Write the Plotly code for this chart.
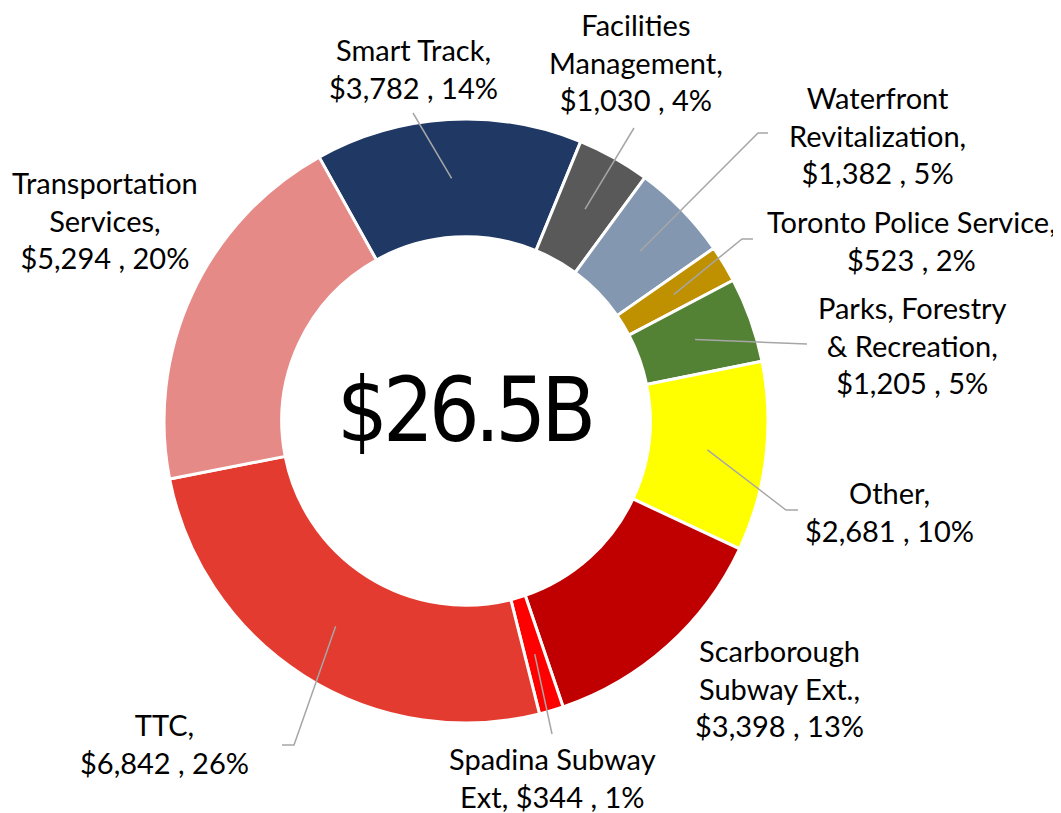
import math
import plotly.graph_objects as go

# ---- data ----
categories = ["Smart Track", "Facilities Management", "Waterfront Revitalization",
              "Toronto Police Service", "Parks, Forestry & Recreation", "Other",
              "Scarborough Subway Ext.", "Spadina Subway Ext", "TTC",
              "Transportation Services"]
values = [3782, 1030, 1382, 523, 1205, 2681, 3398, 344, 6842, 5294]
label_names = ["Smart Track", "Facilities<br>Management", "Waterfront<br>Revitalization",
               "Toronto Police Service", "Parks, Forestry<br>& Recreation", "Other",
               "Scarborough<br>Subway Ext.", "Spadina Subway<br>Ext", "TTC",
               "Transportation<br>Services"]
center_text = "$26.5B"

# ---- style / layout ----
colors = ["#1F3864", "#595959", "#8497B0", "#BF9000", "#548235", "#FFFF00",
          "#C00000", "#FF0000", "#E33B30", "#E68A88"]
label_sep = ["<br>"] * 7 + [" "] + ["<br>"] * 2
label_pos = [(413, 69), (636, 62), (877, 135), (911, 241), (912, 345), (889, 511),
             (779, 688), (552, 777), (164, 743), (105, 220)]
leader_pts = [[(413, 113)], [(634, 128)], [(758, 133), (768, 133)],
              [(742, 239), (753, 239)], [(807, 344)], [(786, 510), (798, 510)],
              None, [(552, 734)], [(294, 745), (282, 745)], None]

W, H = 1061, 813          # window size
OFF = 8                   # default page body margin
FW, FH = W - OFF, H - OFF # figure size
CX, CY, R_OUT, HOLE = 466, 421, 302, 0.61
ROTATION = -29.1
FONT = "Lato, Calibri, Carlito, sans-serif"


def px(x, y):
    """window pixel -> paper coordinates"""
    return (x - OFF) / FW, 1 - (y - OFF) / FH


total = sum(values)

x0, y1 = px(CX - R_OUT, CY - R_OUT)
x1, y0 = px(CX + R_OUT, CY + R_OUT)
fig = go.Figure(go.Pie(
    labels=categories, values=values, hole=HOLE, sort=False,
    direction="clockwise", rotation=ROTATION,
    marker=dict(colors=colors, line=dict(color="white", width=3)),
    textinfo="none", hoverinfo="label+value+percent", showlegend=False,
    domain=dict(x=[x0, x1], y=[y0, y1]),
))

annotations = []
shapes = []
r_mid = R_OUT * (1 + HOLE) / 2
cum = 0
for i, v in enumerate(values):
    mid = math.radians(ROTATION + (cum + v / 2) / total * 360)
    cum += v
    ax, ay = CX + r_mid * math.sin(mid), CY - r_mid * math.cos(mid)
    pct = round(v / total * 100)
    text = f"{label_names[i]},{label_sep[i]}${v:,} , {pct}%"
    lx, ly = px(*label_pos[i])
    annotations.append(dict(x=lx, y=ly, xref="paper", yref="paper", text=text,
                            showarrow=False, xanchor="center", yanchor="middle",
                            align="center", font=dict(family=FONT, size=29, color="black")))
    if leader_pts[i]:
        pts = [(ax, ay)] + leader_pts[i]
        path = "M " + " L ".join(f"{px(x, y)[0]},{px(x, y)[1]}" for x, y in pts)
        shapes.append(dict(type="path", path=path, xref="paper", yref="paper",
                           line=dict(color="#A6A6A6", width=1.5), layer="above"))

cx_, cy_ = px(464, 410)
annotations.append(dict(x=cx_, y=cy_, xref="paper", yref="paper",
                        text=f'<span style="letter-spacing:-5px">{center_text}</span>',
                        showarrow=False, xanchor="center", yanchor="middle",
                        font=dict(family="Liberation Sans Narrow, Arial Narrow, DejaVu Sans Condensed, sans-serif",
                                  size=89, color="black")))

fig.update_layout(width=FW, height=FH, margin=dict(l=0, r=0, t=0, b=0),
                  paper_bgcolor="white", plot_bgcolor="white",
                  annotations=annotations, shapes=shapes)
fig.write_html("out.html")
